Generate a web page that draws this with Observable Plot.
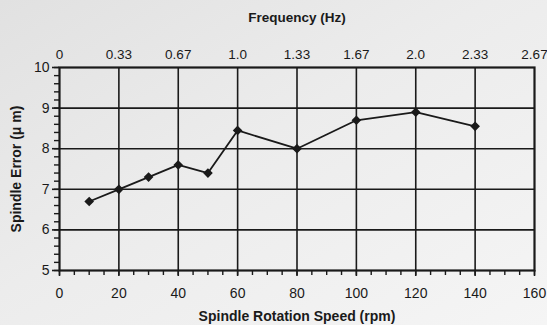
<!DOCTYPE html>
<html>
<head>
<meta charset="utf-8">
<script src="https://cdn.jsdelivr.net/npm/d3@7"></script>
<script src="https://cdn.jsdelivr.net/npm/@observablehq/plot@0.6"></script>
<style>
  html, body { margin: 0; padding: 0; }
  body { background: linear-gradient(to bottom right, #e1e1e1 0%, #ececec 45%, #f5f5f5 100%); width: 547px; height: 325px; overflow: hidden; }
  #chart svg { display: block; font-family: "Liberation Sans", Arial, sans-serif; }
  #chart svg [aria-label$="axis label"] text { font-weight: bold; }
</style>
</head>
<body>
<div id="chart"></div>
<script>
// Data
const speedRpm = [10, 20, 30, 40, 50, 60, 80, 100, 120, 140];
const spindleError = [6.7, 7.0, 7.3, 7.6, 7.4, 8.45, 8.0, 8.7, 8.9, 8.55];

// Axis ticks and labels
const xTicks = [0, 20, 40, 60, 80, 100, 120, 140, 160];
const freqLabels = ["0", "0.33", "0.67", "1.0", "1.33", "1.67", "2.0", "2.33", "2.67"];
const yTicks = [5, 6, 7, 8, 9, 10];
const xGrid = [20, 40, 60, 80, 100, 120, 140];
const yGrid = [6, 7, 8, 9];
const xMinor = d3.range(0, 161, 5);
const yMinor = d3.range(5, 10.001, 0.2);

const data = speedRpm.map((s, i) => ({speed: s, error: spindleError[i]}));

const ink = "#1a1a1a";

const chart = Plot.plot({
  width: 547,
  height: 325,
  marginLeft: 59,
  marginRight: 13,
  marginTop: 67,
  marginBottom: 55,
  style: {background: "transparent", color: ink},
  x: {domain: [0, 160]},
  y: {domain: [5, 10]},
  marks: [
    Plot.ruleY(yGrid, {stroke: ink, strokeWidth: 1.6}),
    Plot.ruleX(xGrid, {stroke: ink, strokeWidth: 1.6}),
    Plot.frame({stroke: ink, strokeWidth: 2.2}),
    Plot.axisY({ticks: yMinor, tickSize: 5, tickFormat: () => "", label: null, strokeWidth: 1.4}),
    Plot.axisY({ticks: yTicks, tickSize: 7, tickPadding: 3, fontSize: 14, strokeWidth: 1.6,
      tickFormat: d => String(d),
      label: "Spindle Error (μ m)", labelAnchor: "center", labelOffset: 48, labelArrow: "none"}),
    Plot.axisX({ticks: xMinor, tickSize: 5, tickFormat: () => "", label: null, strokeWidth: 1.4}),
    Plot.axisX({ticks: xTicks, tickSize: 6, tickPadding: 12, fontSize: 14, strokeWidth: 1.6,
      tickFormat: d => String(d),
      label: "Spindle Rotation Speed (rpm)", labelAnchor: "center", labelOffset: 50, labelArrow: "none"}),
    Plot.axisX({anchor: "top", ticks: xTicks, tickSize: 0, tickPadding: 9, fontSize: 13.5,
      tickFormat: d => freqLabels[xTicks.indexOf(d)],
      label: "Frequency (Hz)", labelAnchor: "center", labelOffset: 55, labelArrow: "none"}),
    Plot.line(data, {x: "speed", y: "error", stroke: ink, strokeWidth: 1.8}),
    Plot.dot(data, {x: "speed", y: "error", symbol: "diamond2", r: 3.4, fill: ink, stroke: ink})
  ]
});
document.getElementById("chart").append(chart);
</script>
</body>
</html>
